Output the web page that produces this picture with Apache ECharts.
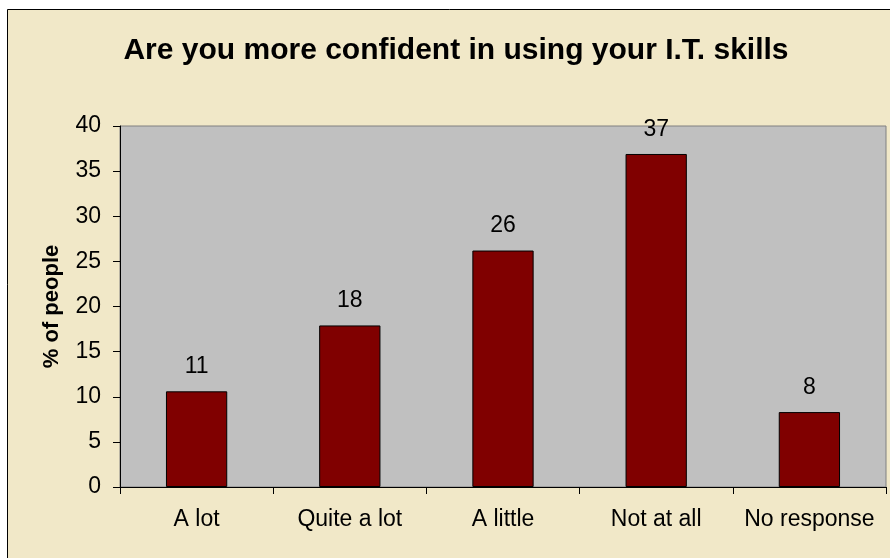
<!DOCTYPE html>
<html>
<head>
<meta charset="utf-8">
<script src="https://cdn.jsdelivr.net/npm/echarts@6/dist/echarts.min.js"></script>
<style>html,body{margin:0;padding:0;background:#fff;}#c{width:890px;height:558px;}</style>
</head>
<body>
<div id="c"></div>
<script>
const categories = ["A lot", "Quite a lot", "A little", "Not at all", "No response"];
const values = [10.6, 17.9, 26.2, 36.9, 8.3];
const labels = ["11", "18", "26", "37", "8"];
const titleText = "Are you more confident in using your I.T. skills";
const yAxisName = "% of people";

const FONT = 'Liberation Sans, Arial, sans-serif';
const chart = echarts.init(document.getElementById('c'), null, {renderer: 'canvas'});
chart.setOption({
  animation: false,
  backgroundColor: '#ffffff',
  textStyle: {fontFamily: FONT, color: '#000'},
  graphic: [{
    type: 'rect', z: -10, silent: true,
    shape: {x: 7.5, y: 9.5, width: 900, height: 600},
    style: {fill: '#F1E8C8', stroke: '#000', lineWidth: 1}
  }],
  title: {
    text: titleText, left: 451, textAlign: 'center', top: 31,
    textStyle: {fontSize: 30, fontWeight: 'bold', color: '#000', fontFamily: FONT}
  },
  grid: {
    left: 120, top: 126, right: 4, bottom: 71,
    show: true, backgroundColor: '#C0C0C0', borderColor: '#808080', borderWidth: 1
  },
  xAxis: {
    type: 'category', data: categories,
    axisLine: {lineStyle: {color: '#000', width: 1}},
    axisTick: {show: true, length: 7, interval: 0, alignWithLabel: false, lineStyle: {color: '#000'}},
    axisLabel: {fontSize: 23, color: '#000', margin: 21, interval: 0, fontFamily: FONT}
  },
  yAxis: {
    type: 'value', min: 0, max: 40, interval: 5,
    name: yAxisName, nameLocation: 'middle', nameGap: 57, nameRotate: 90,
    nameTextStyle: {fontSize: 22, fontWeight: 'bold', color: '#000', fontFamily: FONT},
    axisLine: {show: true, lineStyle: {color: '#000', width: 1}},
    axisTick: {show: true, length: 7, lineStyle: {color: '#000'}},
    splitLine: {show: false},
    axisLabel: {fontSize: 23, color: '#000', margin: 19, fontFamily: FONT}
  },
  series: [{
    type: 'bar', data: values, barWidth: '40%',
    itemStyle: {color: '#800000', borderColor: '#000', borderWidth: 1},
    label: {
      show: true, position: 'top', distance: 13, fontSize: 23, color: '#000', fontFamily: FONT,
      formatter: p => labels[p.dataIndex]
    }
  }]
});
</script>
</body>
</html>
